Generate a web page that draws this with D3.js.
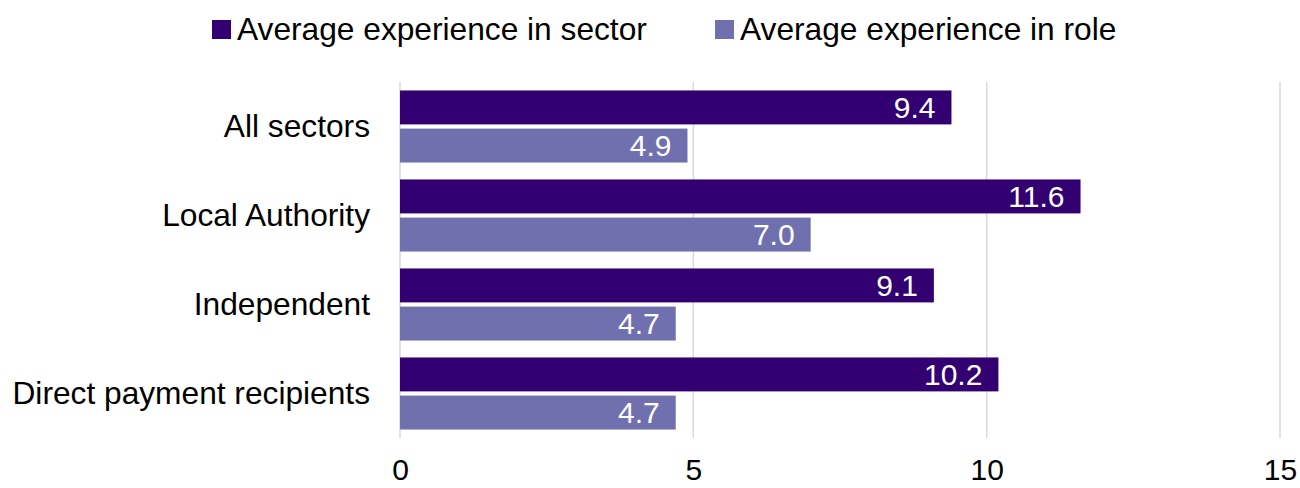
<!DOCTYPE html>
<html>
<head>
<meta charset="utf-8">
<script src="https://cdn.jsdelivr.net/npm/d3@7"></script>
<style>
  body { margin: 0; background: #fff; }
  svg text { font-family: "Liberation Sans", Arial, sans-serif; }
</style>
</head>
<body>
<svg width="1300" height="488"></svg>
<script>
// chart data
var categories = ["All sectors", "Local Authority", "Independent", "Direct payment recipients"];
var seriesNames = ["Average experience in sector", "Average experience in role"];
var sectorValues = [9.4, 11.6, 9.1, 10.2];
var roleValues = [4.9, 7.0, 4.7, 4.7];
var xTicks = [0, 5, 10, 15];
var colors = ["#330072", "#7170ae"];

var data = categories.map(function(c, i) {
  return { category: c, values: [sectorValues[i], roleValues[i]] };
});

var svg = d3.select("svg"),
    margin = {top: 82, right: 20, bottom: 50, left: 400},
    width = 1280 - margin.left,
    height = 438 - margin.top,
    g = svg.append("g").attr("transform", "translate(" + margin.left + "," + margin.top + ")");

var x = d3.scaleLinear().domain([0, 15]).range([0, width]);

var y0 = d3.scaleBand()
    .domain(categories)
    .range([0, height])
    .paddingInner(0.19)
    .paddingOuter(0.095);

var y1 = d3.scaleBand()
    .domain([0, 1])
    .range([0, y0.bandwidth()])
    .paddingInner(0.11);

// gridlines
g.append("g")
  .selectAll("line")
  .data(xTicks)
  .enter().append("line")
    .attr("x1", function(d) { return x(d); })
    .attr("x2", function(d) { return x(d); })
    .attr("y1", 0)
    .attr("y2", height)
    .attr("stroke", "#d9d9d9")
    .attr("stroke-width", 1.5);

// x axis tick labels
var xAxis = g.append("g")
    .attr("transform", "translate(0," + height + ")")
    .call(d3.axisBottom(x).tickValues(xTicks).tickSize(0).tickPadding(21));
xAxis.select(".domain").remove();
xAxis.selectAll("text")
    .attr("font-size", "30px")
    .attr("fill", "#000")
    .style("font-family", "'Liberation Sans', Arial, sans-serif");

// y axis labels
var yAxis = g.append("g")
    .call(d3.axisLeft(y0).tickSize(0).tickPadding(30));
yAxis.select(".domain").remove();
yAxis.selectAll("text")
    .attr("font-size", "31.7px")
    .attr("fill", "#000")
    .style("font-family", "'Liberation Sans', Arial, sans-serif");

// bars
var groups = g.selectAll(".grp")
  .data(data)
  .enter().append("g")
    .attr("class", "grp")
    .attr("transform", function(d) { return "translate(0," + y0(d.category) + ")"; });

groups.selectAll("rect")
  .data(function(d) { return d.values.map(function(v, i) { return {v: v, i: i}; }); })
  .enter().append("rect")
    .attr("x", x(0))
    .attr("y", function(d) { return y1(d.i); })
    .attr("width", function(d) { return x(d.v) - x(0); })
    .attr("height", y1.bandwidth())
    .attr("fill", function(d) { return colors[d.i]; });

groups.selectAll(".lbl")
  .data(function(d) { return d.values.map(function(v, i) { return {v: v, i: i}; }); })
  .enter().append("text")
    .attr("class", "lbl")
    .attr("x", function(d) { return x(d.v) - 16; })
    .attr("y", function(d) { return y1(d.i) + y1.bandwidth() / 2; })
    .attr("dy", "0.36em")
    .attr("text-anchor", "end")
    .attr("fill", "#fff")
    .attr("font-size", "30px")
    .text(function(d) { return d.v.toFixed(1); });

// legend
var legendX = [212, 715];
var legend = svg.selectAll(".legend")
  .data(seriesNames)
  .enter().append("g")
    .attr("class", "legend")
    .attr("transform", function(d, i) { return "translate(" + legendX[i] + ",29)"; });

legend.append("rect")
    .attr("x", 0)
    .attr("y", -9)
    .attr("width", 19)
    .attr("height", 19)
    .attr("fill", function(d, i) { return colors[i]; });

legend.append("text")
    .attr("x", 25)
    .attr("dy", "0.36em")
    .attr("font-size", "31.7px")
    .attr("fill", "#000")
    .text(function(d) { return d; });
</script>
</body>
</html>
